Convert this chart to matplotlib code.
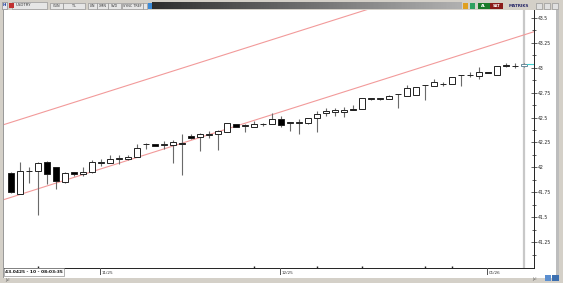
import matplotlib
matplotlib.use("Agg")
import matplotlib.pyplot as plt
import numpy as np
from matplotlib.patches import Rectangle

# ===== Data (daily USDTRY candles) =====
opens = [41.943, 41.737, 41.960, 41.963, 42.050, 42.000, 41.857, 41.953, 41.930, 41.950,
         42.045, 42.043, 42.083, 42.080, 42.103, 42.232, 42.235, 42.225, 42.223, 42.247,
         42.317, 42.303, 42.330, 42.337, 42.360, 42.433, 42.417, 42.410, 42.433, 42.437,
         42.487, 42.450, 42.450, 42.443, 42.493, 42.543, 42.553, 42.553, 42.587, 42.587,
         42.687, 42.687, 42.687, 42.733, 42.720, 42.730, 42.827, 42.820, 42.833, 42.837,
         42.927, 42.927, 42.920, 42.953, 42.927, 43.027, 43.017, 43.013]
highs = [41.955, 42.057, 42.003, 42.050, 42.060, 42.003, 41.953, 41.955, 42.000, 42.070,
         42.080, 42.123, 42.120, 42.120, 42.230, 42.240, 42.238, 42.260, 42.270, 42.337,
         42.337, 42.345, 42.363, 42.380, 42.443, 42.440, 42.433, 42.470, 42.450, 42.543,
         42.513, 42.460, 42.487, 42.495, 42.563, 42.593, 42.597, 42.610, 42.627, 42.697,
         42.700, 42.700, 42.730, 42.737, 42.827, 42.803, 42.832, 42.887, 42.860, 42.910,
         42.932, 42.960, 43.003, 42.956, 43.020, 43.043, 43.043, 43.045]
lows = [41.745, 41.735, 41.843, 41.520, 41.837, 41.780, 41.847, 41.913, 41.917, 41.947,
        42.010, 42.040, 42.037, 42.078, 42.100, 42.187, 42.210, 42.187, 42.043, 41.920,
        42.287, 42.163, 42.297, 42.170, 42.358, 42.403, 42.353, 42.408, 42.420, 42.435,
        42.403, 42.370, 42.337, 42.440, 42.353, 42.520, 42.520, 42.503, 42.577, 42.585,
        42.680, 42.680, 42.685, 42.600, 42.718, 42.728, 42.673, 42.818, 42.813, 42.835,
        42.813, 42.910, 42.887, 42.945, 42.925, 43.010, 42.997, 43.010]
closes = [41.753, 41.960, 41.965, 42.047, 41.937, 41.860, 41.947, 41.937, 41.953, 42.053,
          42.050, 42.080, 42.090, 42.103, 42.197, 42.237, 42.213, 42.230, 42.253, 42.233,
          42.300, 42.337, 42.337, 42.370, 42.443, 42.407, 42.420, 42.437, 42.437, 42.487,
          42.427, 42.457, 42.457, 42.493, 42.537, 42.570, 42.580, 42.580, 42.577, 42.697,
          42.690, 42.690, 42.720, 42.737, 42.797, 42.803, 42.830, 42.853, 42.837, 42.910,
          42.930, 42.930, 42.953, 42.943, 43.020, 43.017, 43.020, 43.0425]

last_price = 43.0425
month_pos = [10, 30, 53]
month_labels = ["11/25", "12/25", "01/26"]
week_marks = [3, 27, 34, 39, 46, 49]
y_ticks = [41.25, 41.5, 41.75, 42.0, 42.25, 42.5, 42.75, 43.0, 43.25, 43.5]
y_labels = ["41.25", "41.5", "41.75", "42", "42.25", "42.5", "42.75", "43", "43.25", "43.5"]
# channel (two anchor points each)
lower_x = [-0.78, 58.11]
lower_y = [41.677, 43.362]
upper_x = [-0.78, 58.11]
upper_y = [42.430, 44.115]

# ===== Figure layout (pixel helpers) =====
W, H = 563, 283
fig = plt.figure(figsize=(W / 100, H / 100), dpi=100, facecolor="#d4d0c8")


def box(x, y, w, h, fc, ec="none", lw=0.5, z=1):
    r = Rectangle((x / W, 1 - (y + h) / H), w / W, h / H, transform=fig.transFigure,
                  facecolor=fc, edgecolor=ec, linewidth=lw, zorder=z)
    fig.add_artist(r)


def txt(x, y, s, size=3.3, color="#222222", weight="normal", ha="left"):
    fig.text(x / W, 1 - y / H, s, fontsize=size, color=color, fontweight=weight,
             ha=ha, va="center", family="DejaVu Sans")


# white chart panel
box(4, 10, 552, 268, "white", z=0)
box(3, 10, 1, 268, "#9a9a9a", z=0)
box(556, 10, 3, 268, "#bdbdbd", z=0)

ax = fig.add_axes([4 / W, 1 - 268 / H, 530 / W, 258 / H])
ax.set_facecolor("white")
ax.set_xlim(-0.78, 58.11)
ax.set_ylim(40.99, 43.58)

# current bar line
ax.axvline(57, color="#c8c8c8", lw=1.6, zorder=1)

# channel
ax.plot(lower_x, lower_y, color="#f29a9a", lw=0.8, zorder=2)
ax.plot(upper_x, upper_y, color="#f29a9a", lw=0.8, zorder=2)

# candles
idx = np.arange(len(opens))
o = np.array(opens)
c = np.array(closes)
ax.vlines(idx, lows, highs, color="#6a6a6a", lw=0.8, zorder=3)
bottoms = np.minimum(o, c)
heights = np.maximum(np.abs(c - o), 0.005)
fills = ["white" if cc >= oo else "black" for oo, cc in zip(o, c)]
edges = ["#222222"] * (len(opens) - 1) + ["#6a8a9a"]
ax.bar(idx, heights, bottom=bottoms, width=0.66, color=fills, edgecolor=edges,
       linewidth=0.7, zorder=4)

# last price marker
ax.plot([57.35, 58.11], [last_price, last_price], color="#40d0d0", lw=0.8, zorder=5)

# axes styling
for side in ["top", "left"]:
    ax.spines[side].set_visible(False)
ax.spines["bottom"].set_color("#222222")
ax.spines["bottom"].set_linewidth(0.7)
ax.spines["right"].set_color("#222222")
ax.spines["right"].set_linewidth(0.7)
ax.yaxis.tick_right()
ax.set_yticks(y_ticks)
ax.set_yticklabels(y_labels)
ax.set_yticks(np.arange(41.125, 43.6, 0.25), minor=True)
ax.tick_params(axis="y", which="major", direction="inout", length=4, width=0.5,
               labelsize=3.3, pad=1, colors="#222222")
ax.tick_params(axis="y", which="minor", direction="inout", length=2.5, width=0.5,
               colors="#222222")
ax.set_xticks(week_marks)
ax.set_xticklabels([])
ax.tick_params(axis="x", direction="in", length=1.5, width=1.0, colors="#222222")

# month labels under the axis
for p, lab in zip(month_pos, month_labels):
    px = 11 + p * 9
    box(px - 1, 268, 0.6, 7, "#555555", z=3)
    txt(px + 1, 272.5, lab, size=3.0, color="#333333")

# current value box bottom-left
box(4, 268, 60, 8, "white", ec="#777777", lw=0.4, z=3)
txt(5, 272, "43.0425 - 10 - 08:03:35", size=3.2, color="#111111", weight="bold")
txt(5, 280, "Jul", size=2.6, color="#555555")
txt(532, 279, "Jul", size=2.6, color="#555555")
box(545, 275, 6, 6, "#5b8fd0", z=3)
box(552, 275, 7, 6, "#3c6fb0", z=3)

# ===== Toolbar =====
box(0, 0, W, 10, "#d4d0c8", z=0)
box(2, 2, 5, 7, "#e8e8f0", ec="#777777", lw=0.4, z=2)
txt(4.5, 5.5, "H", size=3, color="#1a3a9a", weight="bold", ha="center")
box(12, 2, 35, 7, "#e6e6e6", ec="#888888", lw=0.4, z=2)
box(9, 3, 5, 5, "#c03030", z=3)
txt(16, 5.5, "USDTRY", size=2.8, color="#333333")
for bx, bw, lab in [(50, 13, "GUN"), (63, 22, "TL"), (88, 9, "LIN"), (97, 11, "XMN"),
                    (108, 13, "SVD"), (122, 21, "SYNC TREF")]:
    box(bx, 3, bw, 6, "#e6e6e6", ec="#888888", lw=0.4, z=2)
    txt(bx + bw / 2, 6, lab, size=2.4, color="#333333", ha="center")
box(143, 3, 4, 6, "#e6e6e6", ec="#888888", lw=0.4, z=2)
box(148, 3, 4, 6, "#3a8ad8", z=2)

gax = fig.add_axes([152 / W, 1 - 9 / H, 310 / W, 7 / H])
gax.imshow(np.linspace(0, 1, 200)[None, :], aspect="auto", cmap="gray",
           vmin=-0.35, vmax=1.6, extent=[0, 1, 0, 1])
gax.set_axis_off()

box(463, 3, 5, 6, "#e0a020", z=2)
box(470, 3, 5, 6, "#30a060", z=2)
box(478, 3, 12, 6, "#1a7a2a", z=2)
txt(484, 6, "AL", size=2.6, color="white", weight="bold", ha="center")
box(490, 3, 13, 6, "#8a1a1a", z=2)
txt(496.5, 6, "SAT", size=2.6, color="white", weight="bold", ha="center")
txt(519, 6, "MATRIKS", size=3.0, color="#2a2a6a", weight="bold", ha="center")
for bx in [536, 544, 552]:
    box(bx, 3, 6, 6, "#e0e0e0", ec="#888888", lw=0.4, z=2)

fig.savefig("out.png", dpi=100, facecolor=fig.get_facecolor())
